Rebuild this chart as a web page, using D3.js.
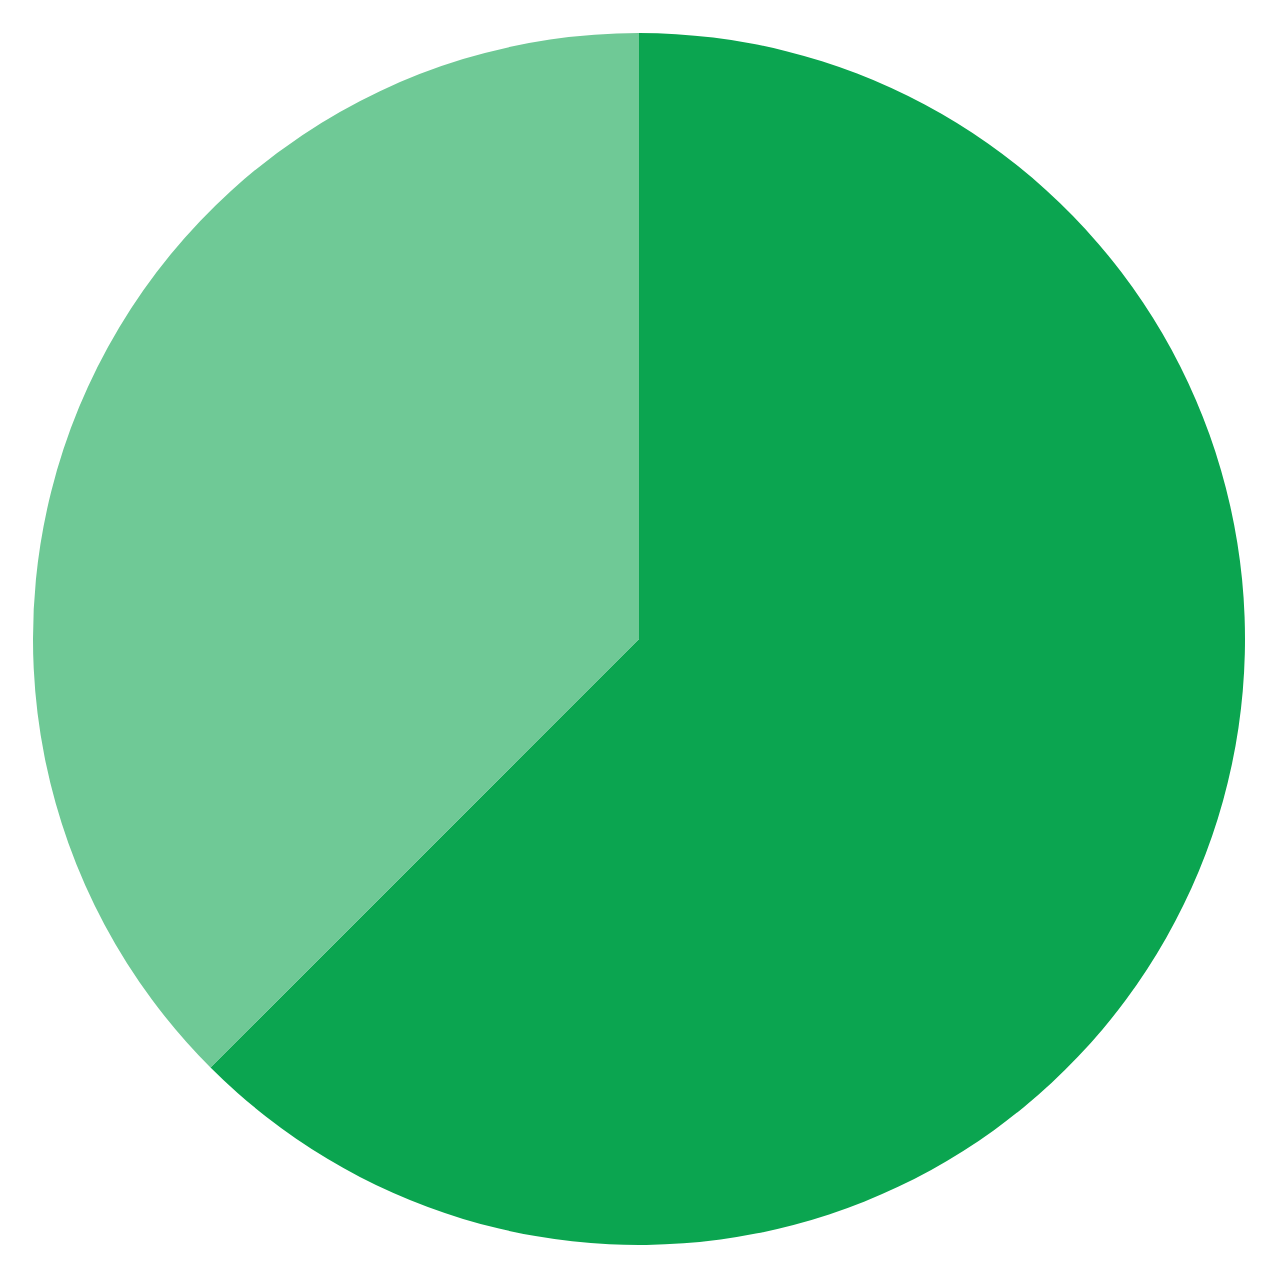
<!DOCTYPE html>
<html><head><meta charset="utf-8">
<script src="https://cdn.jsdelivr.net/npm/d3@7"></script>
<style>html,body{margin:0;padding:0;background:#fff;}</style>
</head><body>
<svg id="chart" width="1280" height="1280"></svg>
<script>
const categories = ["A", "B"];
const values = [62.5, 37.5];
const colors = ["#0BA550", "#6FC996"];

const svg = d3.select("#chart");
const cx = 639, cy = 639, r = 606;
const pie = d3.pie().sort(null).value(d => d.value);
const data = categories.map((c, i) => ({category: c, value: values[i]}));
const arc = d3.arc().innerRadius(0).outerRadius(r);
const color = d3.scaleOrdinal().domain(categories).range(colors);
svg.append("g").attr("transform", `translate(${cx},${cy})`)
  .selectAll("path").data(pie(data)).join("path")
  .attr("d", arc)
  .attr("fill", d => color(d.data.category));
</script>
</body></html>
